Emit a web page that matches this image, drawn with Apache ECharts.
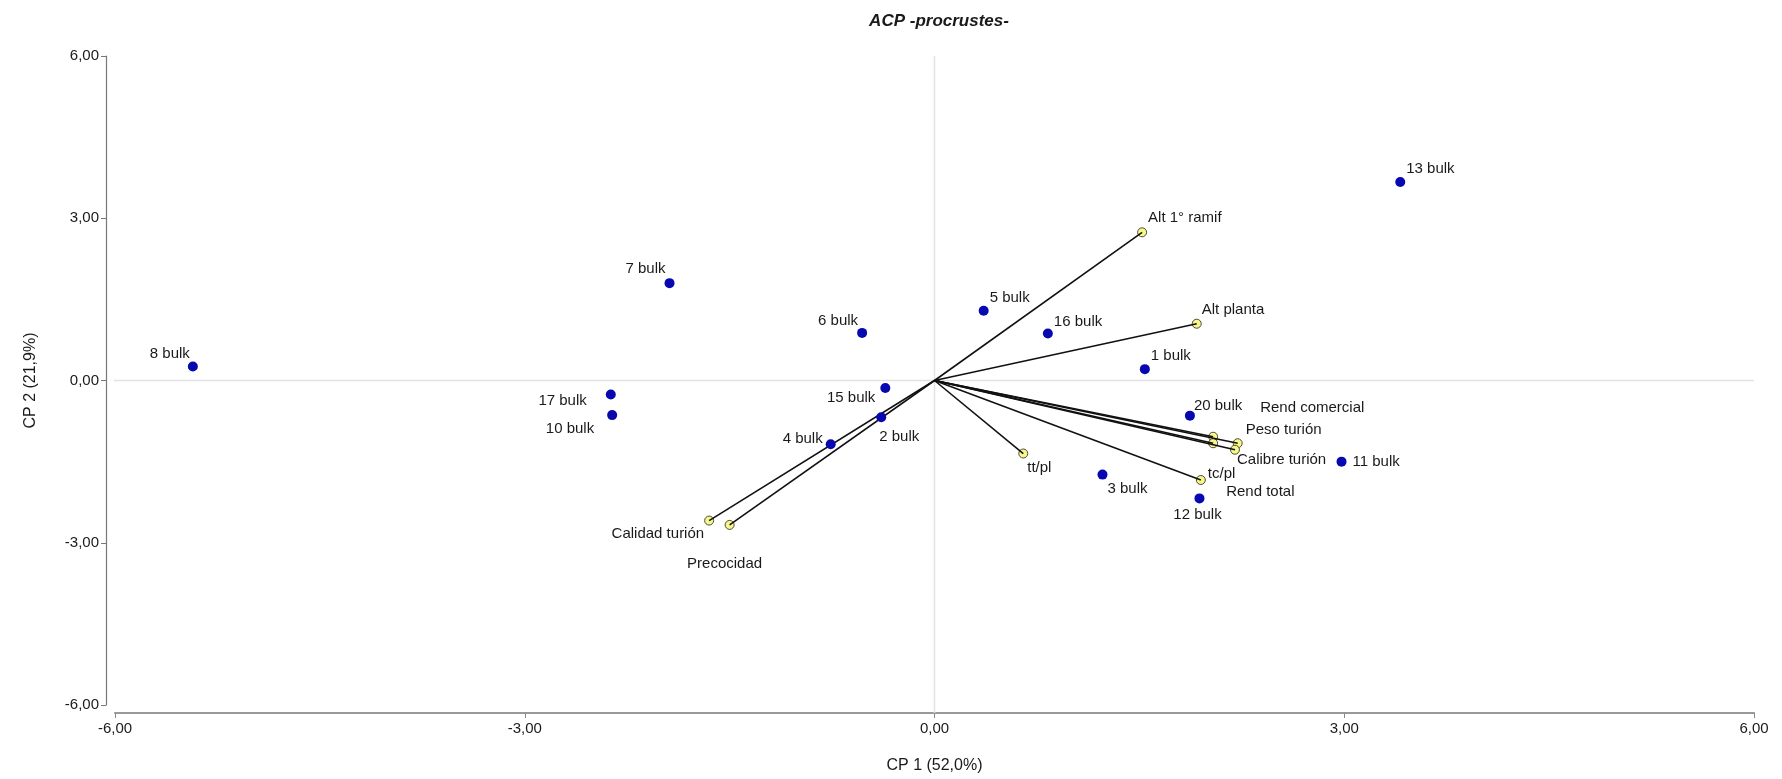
<!DOCTYPE html>
<html>
<head>
<meta charset="utf-8">
<script src="https://cdn.jsdelivr.net/npm/echarts@6/dist/echarts.min.js"></script>
<style>
html,body{margin:0;padding:0;background:#fff;}
#chart{width:1782px;height:779px;}
</style>
</head>
<body>
<div id="chart"></div>
<script>
// ---- Data ----
var obsNames = ['1 bulk','2 bulk','3 bulk','4 bulk','5 bulk','6 bulk','7 bulk','8 bulk','10 bulk','11 bulk','12 bulk','13 bulk','15 bulk','16 bulk','17 bulk','20 bulk'];
var obsX = [1.54, -0.39, 1.23, -0.76, 0.36, -0.53, -1.94, -5.43, -2.36, 2.98, 1.94, 3.41, -0.36, 0.83, -2.37, 1.87];
var obsY = [0.21, -0.68, -1.74, -1.18, 1.29, 0.88, 1.80, 0.26, -0.64, -1.50, -2.18, 3.67, -0.14, 0.87, -0.26, -0.65];

var varNames = ['Alt 1° ramif','Alt planta','Rend comercial','Peso turión','Calibre turión','Rend total','tc/pl','tt/pl','Calidad turión','Precocidad'];
var varX = [1.52, 1.92, 2.04, 2.22, 2.20, 2.04, 1.95, 0.65, -1.65, -1.50];
var varY = [2.74, 1.05, -1.04, -1.16, -1.28, -1.16, -1.84, -1.35, -2.59, -2.67];

var xTicks = [-6, -3, 0, 3, 6];
var yTicks = [-6, -3, 0, 3, 6];

var chartTitle = 'ACP -procrustes-';
var xName = 'CP 1 (52,0%)';
var yName = 'CP 2 (21,9%)';

// ---- Label layout (align, dx, dy from the point) ----
var labelLayout = {
  '8 bulk': ['right', -3, -13], '7 bulk': ['right', -4, -14], '6 bulk': ['right', -4, -12],
  '5 bulk': ['left', 6, -13], '16 bulk': ['left', 6, -12], '1 bulk': ['left', 6, -13],
  '13 bulk': ['left', 6, -13], '20 bulk': ['left', 4, -10], '15 bulk': ['right', -10, 10],
  '2 bulk': ['left', -2, 20], '4 bulk': ['right', -8, -5], '17 bulk': ['right', -24, 6],
  '10 bulk': ['right', -18, 14], '11 bulk': ['left', 11, 0], '12 bulk': ['center', -2, 16],
  '3 bulk': ['left', 5, 14],
  'Alt 1° ramif': ['left', 6, -14], 'Alt planta': ['left', 5, -14],
  'Rend comercial': ['left', 47, -29], 'Peso turión': ['left', 8, -13],
  'Calibre turión': ['left', 2, 10], 'Rend total': ['left', 13, 49],
  'tc/pl': ['left', 7, -6], 'tt/pl': ['left', 4, 14],
  'Calidad turión': ['right', -5, 13], 'Precocidad': ['center', -5, 39]
};

var FONT = '"Liberation Sans", Arial, sans-serif';

function makeItems(names, xs, ys) {
  return names.map(function (n, i) {
    var l = labelLayout[n] || ['left', 6, -12];
    return {
      name: n,
      value: [xs[i], ys[i]],
      label: { show: true, position: 'inside', align: l[0], offset: [l[1], l[2]], formatter: n }
    };
  });
}

var vectorLines = varNames.map(function (n, i) {
  return [{ coord: [0, 0] }, { coord: [varX[i], varY[i]] }];
});

var fmt = function (v) { return v.toFixed(2).replace('.', ','); };

var chart = echarts.init(document.getElementById('chart'), null, { renderer: 'canvas' });
chart.setOption({
  animation: false,
  backgroundColor: '#ffffff',
  title: {
    text: chartTitle,
    left: 934, top: 8, textAlign: 'center',
    textStyle: { fontFamily: FONT, fontSize: 17, fontWeight: 'bold', fontStyle: 'italic', color: '#1a1a1a' }
  },
  grid: { left: 115, right: 28, top: 56, bottom: 74, containLabel: false },
  xAxis: {
    type: 'value', min: xTicks[0], max: xTicks[xTicks.length - 1], interval: 3,
    offset: 8,
    name: xName, nameLocation: 'middle', nameGap: 45,
    nameTextStyle: { fontFamily: FONT, fontSize: 16, color: '#1a1a1a' },
    axisLine: { show: true, onZero: false, lineStyle: { color: '#999', width: 2 } },
    axisTick: { show: true, inside: false, length: 5, lineStyle: { color: '#888' } },
    axisLabel: { fontFamily: FONT, fontSize: 15, color: '#1a1a1a', margin: 8, formatter: fmt },
    splitLine: { show: false }
  },
  yAxis: {
    type: 'value', min: yTicks[0], max: yTicks[yTicks.length - 1], interval: 3,
    offset: 9,
    name: yName, nameLocation: 'middle', nameGap: 67, nameRotate: 90,
    nameTextStyle: { fontFamily: FONT, fontSize: 16, color: '#1a1a1a' },
    axisLine: { show: true, onZero: false, lineStyle: { color: '#777', width: 1.2 } },
    axisTick: { show: true, inside: false, length: 5, lineStyle: { color: '#777' } },
    axisLabel: { fontFamily: FONT, fontSize: 15, color: '#1a1a1a', margin: 7, formatter: fmt },
    splitLine: { show: false }
  },
  series: [
    { // zero reference lines
      type: 'line', clip: false, silent: true, symbol: 'none', z: 1,
      lineStyle: { color: '#e2e2e2', width: 1.5 },
      data: [[0, yTicks[yTicks.length - 1]], [0, -6.15], ['-', '-'], [-6.07, 0], [xTicks[xTicks.length - 1], 0]],
      connectNulls: false
    },
    { // vectors
      type: 'scatter', data: [], silent: true, z: 2,
      markLine: {
        silent: true, symbol: ['none', 'none'], animation: false,
        label: { show: false },
        lineStyle: { color: '#111', width: 1.6, type: 'solid' },
        emphasis: { disabled: true },
        data: vectorLines
      }
    },
    { // variables
      type: 'scatter', z: 4, symbol: 'circle', symbolSize: 9,
      itemStyle: { color: '#f7f78e', borderColor: '#4d4d30', borderWidth: 1, opacity: 1 },
      label: { fontFamily: FONT, fontSize: 15, color: '#1a1a1a', textBorderWidth: 0 },
      data: makeItems(varNames, varX, varY)
    },
    { // observations
      type: 'scatter', z: 5, symbol: 'circle', symbolSize: 10,
      itemStyle: { color: '#0808b0', opacity: 1 },
      label: { fontFamily: FONT, fontSize: 15, color: '#1a1a1a', textBorderWidth: 0 },
      data: makeItems(obsNames, obsX, obsY)
    }
  ]
});
</script>
</body>
</html>
